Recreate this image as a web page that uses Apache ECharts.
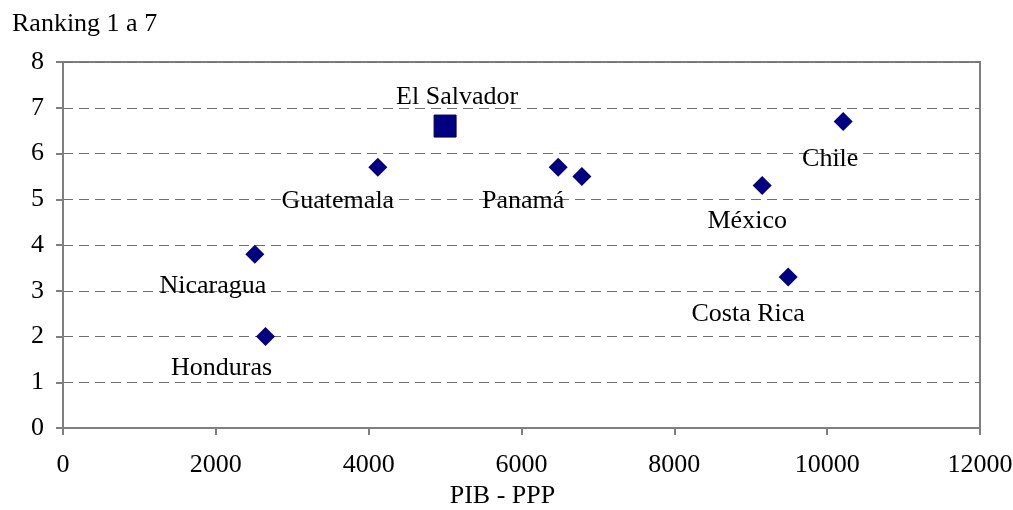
<!DOCTYPE html>
<html>
<head>
<meta charset="utf-8">
<script src="https://cdn.jsdelivr.net/npm/echarts@6/dist/echarts.min.js"></script>
<style>
  html, body { margin: 0; padding: 0; background: #fff; }
  #chart { width: 1013px; height: 510px; }
</style>
</head>
<body>
<div id="chart"></div>
<script>
// Countries, GDP (PPP) and ranking score
const countries = ['Nicaragua', 'Honduras', 'Guatemala', 'Panamá', '', 'México', 'Costa Rica', 'Chile'];
const pib = [2510, 2650, 4120, 6480, 6790, 9150, 9490, 10210];
const ranking = [3.8, 2.0, 5.7, 5.7, 5.5, 5.3, 3.3, 6.7];

const highlightName = ['El Salvador'];
const highlightPib = [5000];
const highlightRanking = [6.6];

const xTicks = [0, 2000, 4000, 6000, 8000, 10000, 12000];
const yTicks = [0, 1, 2, 3, 4, 5, 6, 7, 8];

// label placement relative to each marker
const labelOffsets = {
  'Nicaragua': [-42, 32],
  'Honduras': [-44, 32],
  'Guatemala': [-40, 34],
  'Panamá': [-35, 34],
  'México': [-15, 36],
  'Costa Rica': [-40, 37],
  'Chile': [-13, 38],
  'El Salvador': [12, -29]
};

const font = 'Liberation Serif, Times New Roman, serif';
const fs = 26;
const navy = '#000080';
const gray = '#7f7f7f';

function points(names, xs, ys) {
  return names.map((n, i) => ({
    value: [xs[i], ys[i]],
    name: n,
    label: n ? {
      show: true,
      formatter: n,
      position: 'inside',
      offset: labelOffsets[n],
      color: '#000',
      fontFamily: font,
      fontSize: fs
    } : { show: false }
  }));
}

const chart = echarts.init(document.getElementById('chart'), null, { renderer: 'canvas' });
chart.setOption({
  animation: false,
  backgroundColor: '#fff',
  grid: {
    left: 63, right: 33, top: 62, bottom: 82,
    containLabel: false,
    outerBoundsMode: 'none',
    show: true, borderColor: gray, borderWidth: 2, backgroundColor: 'transparent'
  },
  xAxis: {
    type: 'value',
    min: xTicks[0], max: xTicks[xTicks.length - 1], interval: 2000,
    name: 'PIB - PPP',
    nameLocation: 'middle',
    nameGap: 55,
    nameTextStyle: { fontFamily: font, fontSize: fs, color: '#000', padding: [0, 38, 0, 0] },
    axisLine: { show: true, lineStyle: { color: gray, width: 2 } },
    axisTick: { show: true, length: 7, lineStyle: { color: gray, width: 2 } },
    axisLabel: { fontFamily: font, fontSize: fs, color: '#000', margin: 24, formatter: v => String(v) },
    splitLine: { show: false }
  },
  yAxis: {
    type: 'value',
    min: yTicks[0], max: yTicks[yTicks.length - 1], interval: 1,
    name: 'Ranking 1 a 7',
    nameLocation: 'end',
    nameGap: 25,
    nameTextStyle: { fontFamily: font, fontSize: fs, color: '#000', align: 'left', padding: [0, 0, 0, -51] },
    axisLine: { show: true, lineStyle: { color: gray, width: 2 } },
    axisTick: { show: true, length: 7, lineStyle: { color: gray, width: 2 } },
    axisLabel: { fontFamily: font, fontSize: fs, color: '#000', margin: 19 },
    splitLine: { show: true, lineStyle: { color: '#707070', width: 1, type: [10, 6] } }
  },
  series: [
    {
      type: 'scatter',
      symbol: 'diamond',
      symbolSize: 19,
      itemStyle: { color: navy, opacity: 1 },
      data: points(countries, pib, ranking)
    },
    {
      type: 'scatter',
      symbol: 'rect',
      symbolSize: 22,
      itemStyle: { color: navy, opacity: 1, borderColor: '#000050', borderWidth: 1 },
      data: points(highlightName, highlightPib, highlightRanking)
    }
  ]
});
</script>
</body>
</html>
